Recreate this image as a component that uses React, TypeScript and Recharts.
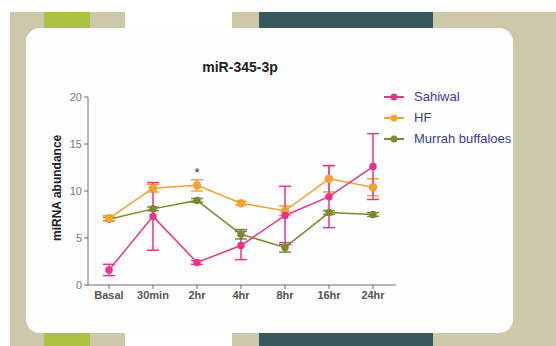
import { CartesianGrid, ErrorBar, Legend, Line, LineChart, ReferenceDot, XAxis, YAxis } from "recharts";

const categories = ["Basal", "30min", "2hr", "4hr", "8hr", "16hr", "24hr"];
const sahiwal = [1.6, 7.3, 2.4, 4.2, 7.4, 9.4, 12.6];
const sahiwalErr = [0.6, 3.6, 0.2, 1.5, 3.1, 3.3, 3.5];
const hf = [7.1, 10.3, 10.6, 8.7, 7.9, 11.3, 10.4];
const hfErr = [0.3, 0.4, 0.6, 0.2, 0.5, 1.4, 0.9];
const murrah = [7.0, 8.1, 9.0, 5.4, 4.0, 7.7, 7.5];
const murrahErr = [0.2, 0.2, 0.2, 0.5, 0.5, 0.2, 0.2];
const yTicks = [0, 5, 10, 15, 20];

const PINK = "#e5348a";
const ORANGE = "#f0a232";
const OLIVE = "#7b8a2e";
const FONT = "'Liberation Sans', Arial, sans-serif";

const data = categories.map((c, i) => ({
  cat: c,
  sahiwal: sahiwal[i],
  sahiwalErr: sahiwalErr[i],
  hf: hf[i],
  hfErr: hfErr[i],
  murrah: murrah[i],
  murrahErr: murrahErr[i],
}));

const legendItems = [
  { name: "Sahiwal", color: PINK },
  { name: "HF", color: ORANGE },
  { name: "Murrah buffaloes", color: OLIVE },
];

function ChartLegend() {
  return (
    <div style={{ fontFamily: FONT }}>
      {legendItems.map((item) => (
        <div key={item.name} style={{ display: "flex", alignItems: "center", height: 21 }}>
          <svg width={22} height={10} style={{ marginRight: 9 }}>
            <line x1={1} y1={5} x2={21} y2={5} stroke={item.color} strokeWidth={2} />
            <circle cx={11} cy={5} r={3.5} fill={item.color} />
          </svg>
          <span style={{ color: "#3c3c8e", fontSize: 13 }}>{item.name}</span>
        </div>
      ))}
    </div>
  );
}

function Decor() {
  const box = (left: number, top: number, width: number, height: number, bg: string) => (
    <div style={{ position: "absolute", left, top, width, height, background: bg }} />
  );
  return (
    <>
      {box(10, 12, 546, 334, "#cec8ab")}
      {box(125, 12, 107, 16, "#ffffff")}
      {box(125, 333, 107, 13, "#ffffff")}
      {box(44, 12, 46, 16, "#abc140")}
      {box(44, 333, 46, 13, "#abc140")}
      {box(259, 12, 174, 16, "#37595e")}
      {box(259, 333, 174, 13, "#37595e")}
      <div
        style={{
          position: "absolute",
          left: 26,
          top: 28,
          width: 487,
          height: 305,
          background: "#fdfdfd",
          borderRadius: 14,
        }}
      />
    </>
  );
}

export default function App() {
  return (
    <div style={{ position: "absolute", left: 0, top: 0, width: 556, height: 346, background: "#ffffff", overflow: "hidden" }}>
      <Decor />
      <div
        style={{
          position: "absolute",
          left: 188,
          top: 59,
          width: 104,
          textAlign: "center",
          fontFamily: FONT,
          fontWeight: "bold",
          fontSize: 14,
          color: "#222",
        }}
      >
        miR-345-3p
      </div>
      <div style={{ position: "absolute", left: 0, top: 0 }}>
        <LineChart width={556} height={346} data={data} margin={{ top: 97, right: 160, bottom: 31, left: 58 }}>
          <CartesianGrid stroke="none" />
          <XAxis
            dataKey="cat"
            height={30}
            padding={{ left: 21, right: 23 }}
            tick={{ fill: "#555", fontSize: 11, fontWeight: "bold", fontFamily: FONT }}
            tickSize={4}
            stroke="#6a6a88"
            interval={0}
          />
          <YAxis
            width={30}
            domain={[0, 20]}
            ticks={yTicks}
            tick={{ fill: "#777", fontSize: 11, fontFamily: FONT }}
            tickSize={4}
            stroke="#6a6a88"
            label={{
              value: "miRNA abundance",
              angle: -90,
              position: "insideLeft",
              dx: -6,
              dy: 50,
              style: { fill: "#222", fontSize: 12, fontWeight: "bold", fontFamily: FONT },
            }}
          />
          <Legend
            layout="vertical"
            align="center"
            verticalAlign="middle"
            wrapperStyle={{ left: 383, top: 86, width: 140 }}
            content={<ChartLegend />}
          />
          <Line
            dataKey="murrah"
            name="Murrah buffaloes"
            stroke={OLIVE}
            strokeWidth={1.5}
            dot={{ r: 3, fill: OLIVE, stroke: OLIVE }}
            isAnimationActive={false}
          >
            <ErrorBar dataKey="murrahErr" direction="y" width={6} stroke={OLIVE} strokeWidth={1.5} />
          </Line>
          <Line
            dataKey="hf"
            name="HF"
            stroke={ORANGE}
            strokeWidth={1.5}
            dot={{ r: 3.5, fill: ORANGE, stroke: ORANGE }}
            isAnimationActive={false}
          >
            <ErrorBar dataKey="hfErr" direction="y" width={6} stroke={ORANGE} strokeWidth={1.5} />
          </Line>
          <Line
            dataKey="sahiwal"
            name="Sahiwal"
            stroke={PINK}
            strokeWidth={1.5}
            dot={{ r: 3, fill: PINK, stroke: PINK }}
            isAnimationActive={false}
          >
            <ErrorBar dataKey="sahiwalErr" direction="y" width={6} stroke={PINK} strokeWidth={1.5} />
          </Line>
          <ReferenceDot
            x="2hr"
            y={12}
            r={0}
            fill="none"
            stroke="none"
            label={{ value: "*", position: "center", fill: "#333", fontSize: 13, fontFamily: FONT }}
          />
        </LineChart>
      </div>
    </div>
  );
}
